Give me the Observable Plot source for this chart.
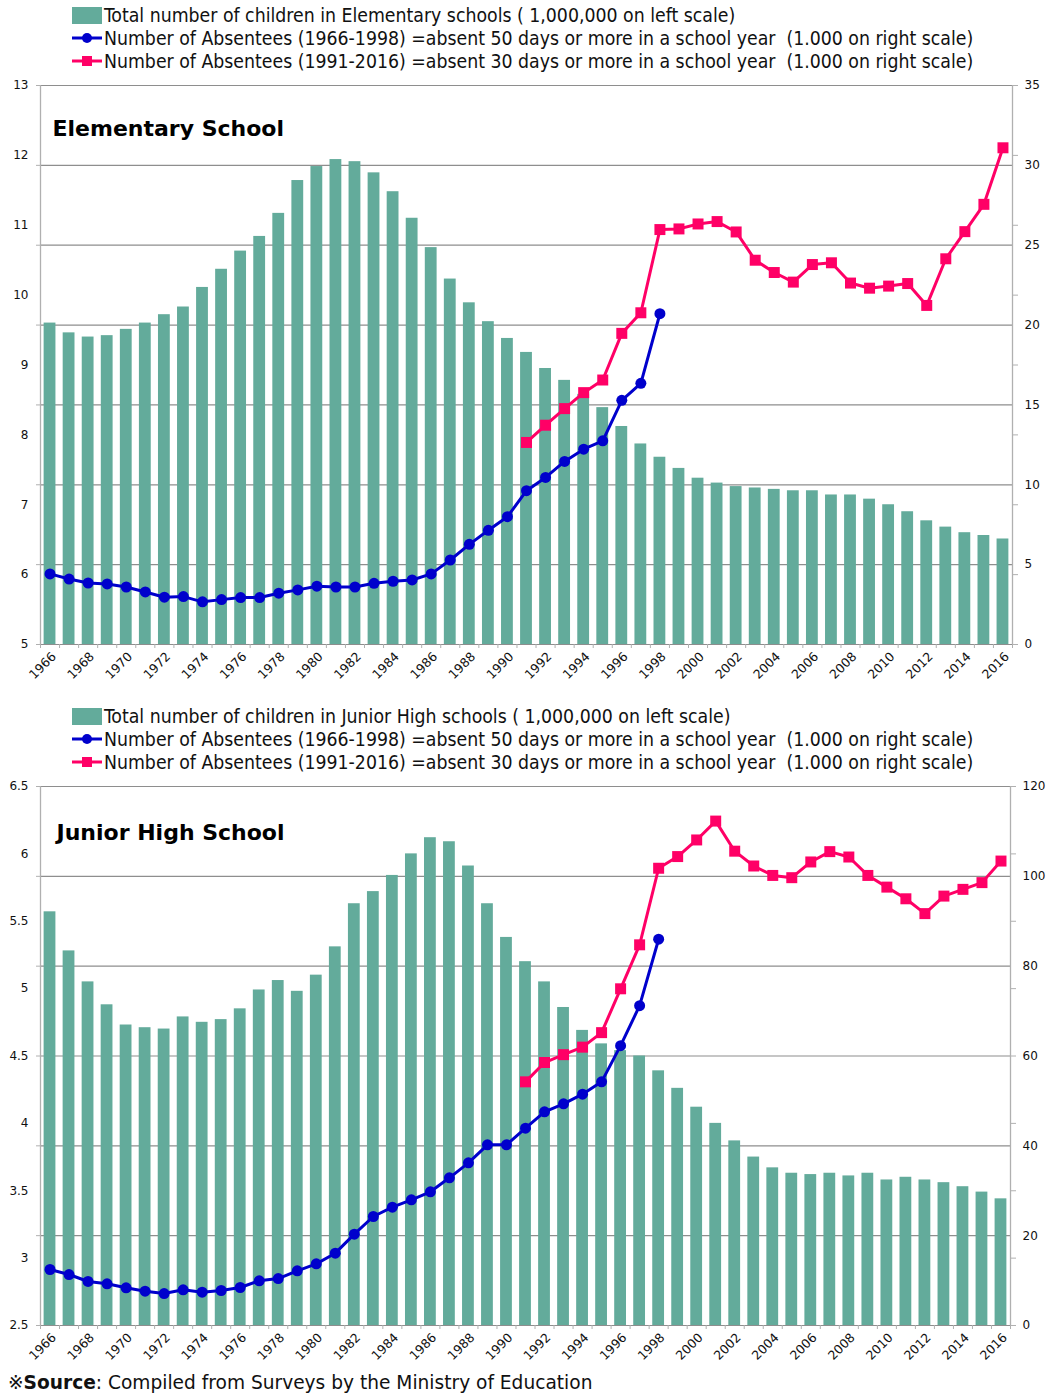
<!DOCTYPE html>
<html>
<head>
<meta charset="utf-8">
<script src="https://cdn.jsdelivr.net/npm/d3@7"></script>
<script src="https://cdn.jsdelivr.net/npm/@observablehq/plot@0.6"></script>
<style>
  html, body { margin: 0; padding: 0; background: #fff; }
  #page { position: relative; width: 1048px; height: 1396px; overflow: hidden; background: #fff; }
  .legend-row { position: absolute; left: 72px; height: 22px; display: flex; align-items: center; white-space: pre;
    font-family: "Liberation Sans Narrow", "DejaVu Sans Condensed", "DejaVu Sans", sans-serif; font-size: 19.3px; color: #111; }
  .legend-row svg { flex: none; margin-right: 2px; }
  .chart { position: absolute; left: 0; }
  #source { position: absolute; left: 8px; top: 1372px; font-family: "DejaVu Sans", Verdana, sans-serif; font-size: 18.6px; color: #111; white-space: nowrap; }
</style>
</head>
<body>
<div id="page"></div>
<script>
// ---------------- data ----------------
const years = [1966,1967,1968,1969,1970,1971,1972,1973,1974,1975,1976,1977,1978,1979,1980,1981,1982,1983,1984,1985,
  1986,1987,1988,1989,1990,1991,1992,1993,1994,1995,1996,1997,1998,1999,2000,2001,2002,2003,2004,2005,
  2006,2007,2008,2009,2010,2011,2012,2013,2014,2015,2016];
const years50 = [1966,1967,1968,1969,1970,1971,1972,1973,1974,1975,1976,1977,1978,1979,1980,1981,1982,1983,1984,1985,
  1986,1987,1988,1989,1990,1991,1992,1993,1994,1995,1996,1997,1998];
const years30 = [1991,1992,1993,1994,1995,1996,1997,1998,1999,2000,2001,2002,2003,2004,2005,2006,2007,2008,2009,2010,
  2011,2012,2013,2014,2015,2016];
const evenYears = years.filter((y, i) => i % 2 === 0);

// Elementary school: children (millions, left scale), absentees (thousands, right scale)
const elemTotal = [9.60,9.46,9.40,9.42,9.51,9.60,9.72,9.83,10.11,10.37,
  10.63,10.84,11.17,11.64,11.84,11.94,11.91,11.75,11.48,11.10,
  10.68,10.23,9.89,9.62,9.38,9.18,8.95,8.78,8.58,8.39,
  8.12,7.87,7.68,7.52,7.38,7.31,7.26,7.24,7.22,7.20,
  7.20,7.14,7.14,7.08,7.00,6.90,6.77,6.68,6.60,6.56,6.51];
const elemAbs50 = [4.42,4.10,3.85,3.79,3.60,3.29,2.96,3.00,2.67,2.81,
  2.94,2.94,3.21,3.42,3.65,3.60,3.60,3.83,3.96,4.04,
  4.42,5.29,6.27,7.15,8.00,9.63,10.46,11.46,12.23,12.75,
  15.29,16.35,20.71];
const elemAbs30 = [12.65,13.73,14.77,15.77,16.56,19.48,20.77,25.98,26.02,26.33,
  26.48,25.83,24.06,23.29,22.69,23.79,23.90,22.63,22.31,22.44,
  22.60,21.23,24.15,25.85,27.56,31.10];

// Junior high school
const jhTotal = [5.57,5.28,5.05,4.88,4.73,4.71,4.70,4.79,4.75,4.77,
  4.85,4.99,5.06,4.98,5.10,5.31,5.63,5.72,5.84,6.00,
  6.12,6.09,5.91,5.63,5.38,5.20,5.05,4.86,4.69,4.59,
  4.54,4.50,4.39,4.26,4.12,4.00,3.87,3.75,3.67,3.63,
  3.62,3.63,3.61,3.63,3.58,3.60,3.58,3.56,3.53,3.49,3.44];
const jhAbs50 = [12.47,11.35,9.80,9.28,8.39,7.64,7.12,7.94,7.42,7.79,
  8.46,9.95,10.46,12.17,13.73,16.10,20.33,24.27,26.34,27.98,
  29.76,32.88,36.22,40.23,40.23,43.93,47.57,49.35,51.50,54.25,
  62.30,71.20,86.00];
const jhAbs30 = [54.25,58.55,60.30,61.97,65.20,74.96,84.75,101.8,104.4,108.1,
  112.3,105.6,102.3,100.2,99.7,103.2,105.5,104.3,100.2,97.6,
  95.0,91.7,95.6,97.1,98.6,103.4];

// axis ticks
const elemLeftTicks = [5,6,7,8,9,10,11,12,13];
const elemRightTicks = [0,5,10,15,20,25,30,35];
const jhLeftTicks = [2.5,3,3.5,4,4.5,5,5.5,6,6.5];
const jhRightTicks = [0,20,40,60,80,100,120];

// text
const legendTexts1 = [
  "Total number of children in Elementary schools ( 1,000,000 on left scale)",
  "Number of Absentees (1966-1998) =absent 50 days or more in a school year  (1.000 on right scale)",
  "Number of Absentees (1991-2016) =absent 30 days or more in a school year  (1.000 on right scale)"
];
const legendTexts2 = [
  "Total number of children in Junior High schools ( 1,000,000 on left scale)",
  "Number of Absentees (1966-1998) =absent 50 days or more in a school year  (1.000 on right scale)",
  "Number of Absentees (1991-2016) =absent 30 days or more in a school year  (1.000 on right scale)"
];

// colors
const BAR = "#63ab9b", BLUE = "#0000cc", PINK = "#ff0066", GRID = "#8e8e8e", AXIS = "#b0b0b0";

// ---------------- helpers ----------------
const page = document.getElementById("page");

function legend(texts, top) {
  const sw = [
    `<svg width="30" height="18"><rect x="0" y="1" width="30" height="17" fill="${BAR}"/></svg>`,
    `<svg width="30" height="18"><line x1="0" x2="30" y1="9" y2="9" stroke="${BLUE}" stroke-width="3"/><circle cx="15" cy="9" r="5" fill="${BLUE}"/></svg>`,
    `<svg width="30" height="18"><line x1="0" x2="30" y1="9" y2="9" stroke="${PINK}" stroke-width="3"/><rect x="10" y="4" width="10" height="10" fill="${PINK}"/></svg>`
  ];
  texts.forEach((t, i) => {
    const row = document.createElement("div");
    row.className = "legend-row";
    row.style.top = (top + 15 + i * 23 - 11) + "px";
    row.innerHTML = sw[i] + "<span></span>";
    row.querySelector("span").textContent = t;
    page.appendChild(row);
  });
}

function chart({total, abs50, abs30, leftDomain, leftTicks, rightTicks, rightMax, title, top, height, marginBottom, marginRight, titleDx, titleDy, leftFmt}) {
  const [L0, L1] = leftDomain;
  const toLeft = v => L0 + v / rightMax * (L1 - L0);
  const fromLeft = y => (y - L0) / (L1 - L0) * rightMax;
  const bars = years.map((y, i) => ({year: y, value: total[i]}));
  const s50 = years50.map((y, i) => ({year: y, value: abs50[i]}));
  const s30 = years30.map((y, i) => ({year: y, value: abs30[i]}));
  const boundaries = [years[0] - 0.5, ...years.map(y => y + 0.5)];

  const svg = Plot.plot({
    width: 1048,
    height,
    marginTop: 11,
    marginLeft: 40,
    marginRight,
    marginBottom,
    style: {fontFamily: "'DejaVu Sans', Verdana, sans-serif", fontSize: "12px", color: "#111", background: "#fff"},
    x: {type: "linear", domain: [years[0] - 0.5, years[years.length - 1] + 0.5], axis: null},
    y: {domain: leftDomain, axis: null},
    marks: [
      Plot.gridY(rightTicks.map(toLeft), {stroke: GRID, strokeOpacity: 1, strokeWidth: 1.2}),
      Plot.rectY(bars, {x1: d => d.year - 0.31, x2: d => d.year + 0.31, y1: L0, y2: "value", fill: BAR}),
      Plot.ruleX([years[0] - 0.5], {stroke: AXIS, strokeWidth: 1.3}),
      Plot.ruleX([years[years.length - 1] + 0.5], {stroke: AXIS, strokeWidth: 1.3}),
      // left axis: labels at left-scale ticks, small ticks at gridlines
      Plot.axisY(leftTicks, {anchor: "left", label: null, tickSize: 0, tickPadding: 12, tickFormat: leftFmt}),
      Plot.axisY(rightTicks.map(toLeft), {anchor: "left", label: null, tickSize: 4, stroke: AXIS, tickFormat: () => ""}),
      // right axis: small ticks at left-scale positions, labels at gridlines
      Plot.axisY(leftTicks, {anchor: "right", label: null, tickSize: 5, stroke: AXIS, tickFormat: () => ""}),
      Plot.axisY(rightTicks.map(toLeft), {anchor: "right", label: null, tickSize: 0, tickPadding: 12, tickFormat: d => String(Math.round(fromLeft(d)))}),
      // x axis
      Plot.axisX(boundaries, {anchor: "bottom", label: null, tickSize: 4, stroke: AXIS, tickFormat: () => ""}),
      Plot.axisX(evenYears, {anchor: "bottom", label: null, tickSize: 0, tickPadding: 10, tickRotate: -45, fontSize: 12.5, tickFormat: d => String(d), dx: 4}),
      // series
      Plot.line(s50, {x: "year", y: d => toLeft(d.value), stroke: BLUE, strokeWidth: 3}),
      Plot.dot(s50, {x: "year", y: d => toLeft(d.value), r: 5.5, fill: BLUE, stroke: null}),
      Plot.line(s30, {x: "year", y: d => toLeft(d.value), stroke: PINK, strokeWidth: 3}),
      Plot.dot(s30, {x: "year", y: d => toLeft(d.value), symbol: "square", r: 6.2, fill: PINK, stroke: null}),
      // title inside plot
      Plot.text([title], {frameAnchor: "top-left", text: d => d, dx: titleDx, dy: titleDy, lineAnchor: "middle", textAnchor: "start",
        fontSize: 22, fontWeight: "bold", fill: "#000"})
    ]
  });
  svg.classList.add("chart");
  svg.style.top = top + "px";
  page.appendChild(svg);
}

// ---------------- build ----------------
legend(legendTexts1, 0);
chart({total: elemTotal, abs50: elemAbs50, abs30: elemAbs30, leftDomain: [5, 13], leftTicks: elemLeftTicks,
  rightTicks: elemRightTicks, rightMax: 35, title: "Elementary School", top: 74, height: 620, marginBottom: 50,
  marginRight: 36, titleDx: 12, titleDy: 43, leftFmt: d => String(d)});
legend(legendTexts2, 701);
chart({total: jhTotal, abs50: jhAbs50, abs30: jhAbs30, leftDomain: [2.5, 6.5], leftTicks: jhLeftTicks,
  rightTicks: jhRightTicks, rightMax: 120, title: "Junior High School", top: 775, height: 595, marginBottom: 45,
  marginRight: 38, titleDx: 16, titleDy: 46, leftFmt: d => String(d)});

const src = document.createElement("div");
src.id = "source";
src.innerHTML = "※<b>Source</b>: Compiled from Surveys by the Ministry of Education";
page.appendChild(src);
</script>
</body>
</html>
